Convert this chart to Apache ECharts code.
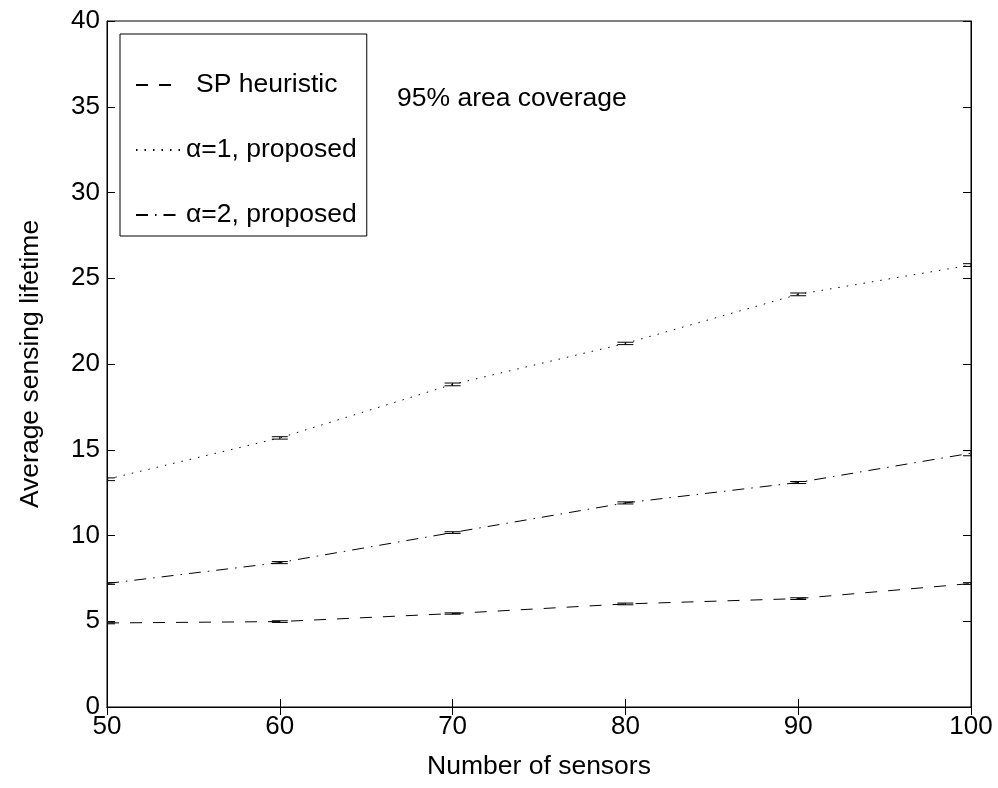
<!DOCTYPE html>
<html>
<head>
<meta charset="utf-8">
<script src="https://cdn.jsdelivr.net/npm/echarts@6/dist/echarts.min.js"></script>
<style>
  html, body { margin: 0; padding: 0; background: #fff; }
  #chart { width: 998px; height: 788px; }
</style>
</head>
<body>
<div id="chart"></div>
<script>
// values
const sensors = [50, 60, 70, 80, 90, 100];
const spHeuristic = [4.9, 4.98, 5.45, 6.01, 6.32, 7.2];
const alpha1 = [13.28, 15.69, 18.81, 21.2, 24.06, 25.77];
const alpha2 = [7.2, 8.42, 10.17, 11.9, 13.09, 14.8];
const spErr = [0.05, 0.05, 0.04, 0.05, 0.05, 0.05];
const alpha1Err = [0.08, 0.07, 0.08, 0.07, 0.08, 0.08];
const alpha2Err = [0.05, 0.06, 0.05, 0.06, 0.06, 0.15];
const seriesNames = ['SP heuristic', 'α=1, proposed', 'α=2, proposed'];

const FONT = 'Liberation Sans, Arial, Helvetica, sans-serif';

function pairs(ys) {
  return sensors.map((x, i) => [x, ys[i]]);
}

function errRows(ys, errs) {
  return sensors.map((x, i) => [x, ys[i] - errs[i], ys[i] + errs[i]]);
}

// error bar: short vertical stem with two horizontal caps
function renderErr(params, api) {
  const x = api.value(0);
  const lo = api.coord([x, api.value(1)]);
  const hi = api.coord([x, api.value(2)]);
  const half = 8;
  const style = { stroke: '#000', lineWidth: 1 };
  return {
    type: 'group',
    children: [
      { type: 'line', shape: { x1: lo[0], y1: lo[1], x2: hi[0], y2: hi[1] }, style },
      { type: 'line', shape: { x1: lo[0] - half, y1: lo[1], x2: lo[0] + half, y2: lo[1] }, style },
      { type: 'line', shape: { x1: hi[0] - half, y1: hi[1], x2: hi[0] + half, y2: hi[1] }, style }
    ]
  };
}

function lineSeries(name, ys, dash) {
  return {
    name,
    type: 'line',
    data: pairs(ys),
    symbol: 'none',
    smooth: false,
    lineStyle: { color: '#000', width: 1, type: dash },
    itemStyle: { color: '#000' },
    z: 3
  };
}

function errSeries(ys, errs) {
  return {
    type: 'custom',
    data: errRows(ys, errs),
    renderItem: renderErr,
    encode: { x: 0, y: [1, 2] },
    clip: true,
    silent: true,
    z: 4
  };
}

const tickLabel = { color: '#000', fontFamily: FONT, fontSize: 26 };
const axisLineStyle = { lineStyle: { color: '#000', width: 1 } };

const chart = echarts.init(document.getElementById('chart'));
chart.setOption({
  animation: false,
  backgroundColor: '#fff',
  grid: { left: 107, right: 27, top: 21, bottom: 81, show: true, borderColor: '#000', borderWidth: 1 },
  legend: {
    data: seriesNames,
    orient: 'vertical',
    left: 120,
    top: 34,
    padding: [36, 10, 6, 15],
    itemGap: 35,
    itemWidth: 45,
    itemHeight: 14,
    itemStyle: { opacity: 0 },
    backgroundColor: '#fff',
    borderColor: '#000',
    borderWidth: 1,
    borderRadius: 0,
    // the first entry sits a little further right in the reference
    formatter: (name) => (name === seriesNames[0] ? '{sp|' + name + '}' : name),
    textStyle: {
      color: '#000', fontFamily: FONT, fontSize: 26.5, lineHeight: 30,
      rich: { sp: { fontFamily: FONT, fontSize: 26.5, lineHeight: 30, padding: [0, 0, 0, 10] } }
    }
  },
  xAxis: [
    {
      type: 'value', min: 50, max: 100, interval: 10,
      name: 'Number of sensors', nameLocation: 'middle', nameGap: 46,
      nameTextStyle: { color: '#000', fontFamily: FONT, fontSize: 26.5 },
      axisLine: axisLineStyle,
      axisTick: { inside: true, length: 8, lineStyle: { color: '#000' } },
      axisLabel: Object.assign({ margin: 7 }, tickLabel),
      splitLine: { show: false }
    },
    {
      type: 'value', position: 'top', min: 50, max: 100, interval: 10,
      axisLine: axisLineStyle,
      axisTick: { inside: true, length: 8, lineStyle: { color: '#000' } },
      axisLabel: { show: false },
      splitLine: { show: false }
    }
  ],
  yAxis: [
    {
      type: 'value', min: 0, max: 40, interval: 5,
      name: 'Average sensing lifetime', nameLocation: 'middle', nameGap: 63,
      nameTextStyle: { color: '#000', fontFamily: FONT, fontSize: 26.5 },
      axisLine: Object.assign({ show: true }, axisLineStyle),
      axisTick: { show: true, inside: true, length: 8, lineStyle: { color: '#000' } },
      axisLabel: Object.assign({ margin: 7 }, tickLabel),
      splitLine: { show: false }
    },
    {
      type: 'value', position: 'right', min: 0, max: 40, interval: 5,
      axisLine: Object.assign({ show: true }, axisLineStyle),
      axisTick: { show: true, inside: true, length: 8, lineStyle: { color: '#000' } },
      axisLabel: { show: false },
      splitLine: { show: false }
    }
  ],
  graphic: [
    {
      type: 'text', left: 397, top: 85,
      style: { text: '95% area coverage', fill: '#000', font: '26.5px ' + FONT }
    }
  ],
  series: [
    lineSeries(seriesNames[0], spHeuristic, [12, 11]),
    lineSeries(seriesNames[1], alpha1, [1.5, 7]),
    lineSeries(seriesNames[2], alpha2, [12, 7, 1.5, 7]),
    errSeries(spHeuristic, spErr),
    errSeries(alpha1, alpha1Err),
    errSeries(alpha2, alpha2Err)
  ]
});
</script>
</body>
</html>
